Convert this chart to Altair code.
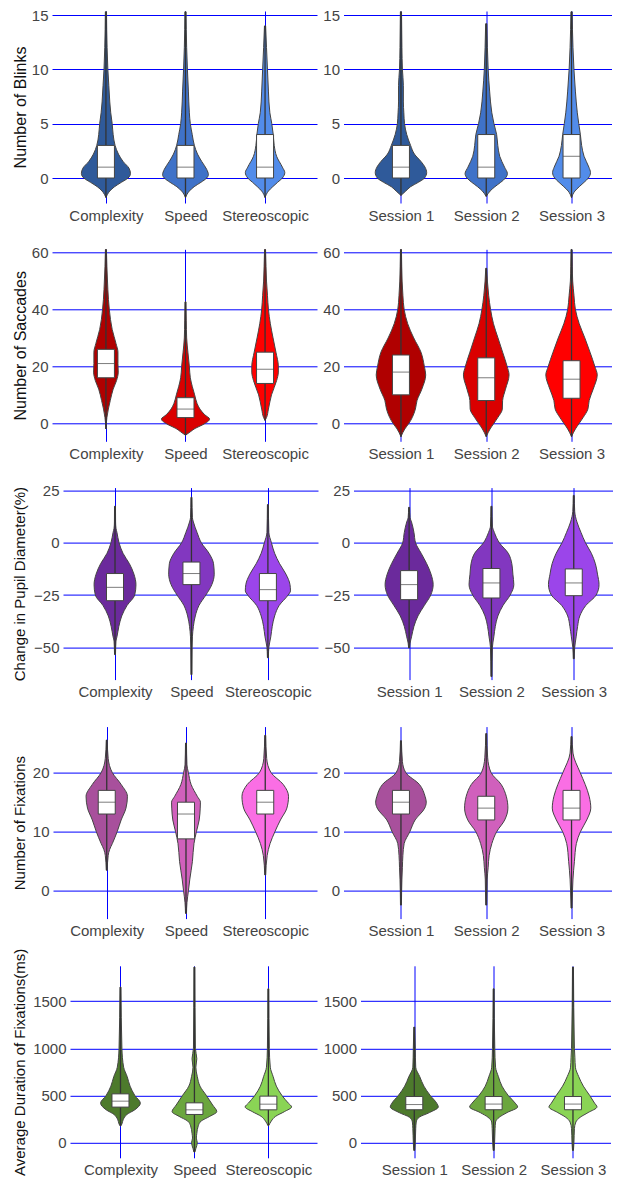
import altair as alt
import pandas as pd

FONT = "Liberation Sans"

cond_cats = ["Complexity", "Speed", "Stereoscopic"]
sess_cats = ["Session 1", "Session 2", "Session 3"]

blinks_title = "Number of Blinks"
blinks_ticks = [0, 5, 10, 15]
blinks_colors = ["#2f5a9a", "#3f72c8", "#528cea"]
blinks_violin = {
    "Complexity": ([-1.8, -1.2, -0.8, -0.4, 0, 0.4, 0.9, 1.5, 2.2, 3, 4, 5, 6, 7, 8.5, 10, 12, 15.3],
                   [0, 4, 9, 16, 23, 25.5, 24, 18, 13, 9.5, 7.5, 6.5, 5, 4, 3, 2, 1.2, 0.6]),
    "Speed": ([-1.8, -1.2, -0.8, -0.4, 0, 0.3, 0.8, 1.5, 2.2, 3, 4, 5, 6, 8, 10, 12, 15.3],
              [0, 4, 9, 16, 22, 23.8, 22, 17, 12.5, 9.2, 7, 5, 4, 3, 2, 1.2, 0.6]),
    "Stereoscopic": ([-1.8, -1.2, -0.8, -0.4, 0, 0.5, 1, 2, 3, 4, 5, 6, 8, 10, 12, 14],
                     [0, 3.5, 8, 13, 18, 20.5, 18, 12, 9.5, 8.5, 7, 5, 3.5, 2.5, 1.5, 0.6]),
    "Session 1": ([-1.6, -1.2, -0.8, -0.4, 0, 0.5, 1, 1.5, 2.2, 3, 4, 5, 6, 7, 8.5, 10, 12, 15.3],
                  [0, 5, 10, 18, 24.5, 26.7, 25, 21, 14, 10, 6, 3.7, 3, 2.5, 2.5, 1.5, 1, 0.6]),
    "Session 2": ([-1.7, -1.2, -0.8, -0.4, 0, 0.4, 1, 2, 3, 4, 5, 6, 8, 10, 12, 14.2],
                  [0, 4, 9, 15, 20, 22, 19, 14, 12, 10.8, 8, 5.8, 3.5, 2, 1.2, 0.6]),
    "Session 3": ([-1.8, -1.2, -0.8, -0.4, 0, 0.5, 1, 2, 3, 4, 5, 6, 8, 10, 12, 15.3],
                  [0, 3.5, 8, 13, 17.5, 19.7, 18, 13, 10.5, 9.2, 7.5, 6, 4, 2.5, 1.5, 0.6]),
}
blinks_box = {"Complexity": (0, 1, 3), "Speed": (0, 1, 3), "Stereoscopic": (0, 1, 4),
              "Session 1": (0, 1, 3), "Session 2": (0, 1, 4), "Session 3": (0, 2, 4)}

sacc_title = "Number of Saccades"
sacc_ticks = [0, 20, 40, 60]
sacc_colors = ["#b00000", "#da0000", "#ff0000"]
sacc_violin = {
    "Complexity": ([-2, 2, 5, 8, 12, 15, 18, 21, 25, 28, 33, 40, 47, 55, 61.1],
                   [0, 1, 2.5, 4.5, 7.5, 11, 12.8, 12.5, 12.5, 10.5, 6.5, 3.5, 2, 1, 0.5]),
    "Speed": ([-4.2, -3, -1.8, -0.5, 1.5, 3, 5, 7, 10, 13, 16, 20, 25, 30, 36, 42.7],
              [0, 5, 10, 18, 25, 20, 15, 12, 9.5, 7, 5, 4, 2.5, 1.2, 0.8, 0.5]),
    "Stereoscopic": ([1, 2, 5, 10, 15, 18, 20, 25, 30, 35, 40, 45, 50, 55, 61.1],
                     [0, 1.5, 3.5, 6.7, 12, 13.8, 13.8, 11.3, 8.3, 5.5, 3.5, 2.5, 1.5, 1, 0.5]),
    "Session 1": ([-4.7, -2, 0, 2, 5, 8, 12, 17, 20, 25, 30, 35, 40, 45, 50, 55, 61.1],
                  [0, 4, 8.3, 11.7, 15, 16.7, 21.7, 25.7, 24.3, 20.8, 13.3, 7, 3.3, 2, 1.2, 0.8, 0.5]),
    "Session 2": ([-4.7, -2, 0, 2, 5, 8, 12, 17, 20, 25, 30, 35, 40, 45, 50, 54.5],
                  [0, 4, 8, 12, 16.7, 17, 20, 23.7, 21.7, 17, 12.2, 7.5, 4.5, 2.5, 1.2, 0.5]),
    "Session 3": ([-4.7, -2, 0, 2, 5, 8, 12, 17, 20, 25, 30, 35, 40, 45, 50, 55, 61.1],
                  [0, 4, 8, 12, 17, 18.3, 22.5, 26.7, 24.2, 19.2, 13.8, 8, 4, 2.5, 1.2, 0.8, 0.5]),
}
sacc_box = {"Complexity": (16, 21, 26), "Speed": (2, 5, 9), "Stereoscopic": (14, 19, 25),
            "Session 1": (10, 18, 24), "Session 2": (8, 16, 23), "Session 3": (8.8, 15.5, 22)}

pupil_title = "Change in Pupil Diameter(%)"
pupil_ticks = [-50, -25, 0, 25]
pupil_colors = ["#6b2a9c", "#8237c0", "#9b45ea"]
pupil_violin = {
    "Complexity": ([-53.5, -47, -45, -40, -35, -30, -25, -20, -15, -10, -5, 0, 5, 7, 10, 17.5],
                   [0.5, 1, 2, 4, 7, 12.5, 20.5, 21.8, 19.7, 15, 8.3, 4.2, 2, 1, 0.6, 0.5]),
    "Speed": ([-63.1, -50, -45, -40, -35, -30, -25, -20, -15, -10, -5, 0, 5, 10, 12, 21.8],
              [0.5, 0.7, 1, 2, 4, 7.8, 15, 21.2, 23.7, 23, 18.3, 10.3, 5.8, 2, 1, 0.5]),
    "Stereoscopic": ([-55, -52, -50, -45, -40, -35, -30, -25, -23, -20, -15, -10, -5, 0, 5, 18.3],
                     [0.5, 0.7, 1, 3, 4.5, 7, 11.7, 21, 23.5, 23, 18.8, 12.2, 7, 3.7, 1, 0.5]),
    "Session 1": ([-50.3, -48, -45, -40, -35, -30, -25, -20, -15, -10, -5, 0, 5, 10, 12, 17],
                  [0.5, 1, 2.5, 5, 9.2, 15.8, 22.5, 25, 22.8, 18.3, 12.5, 6.7, 5, 2.5, 1, 0.5]),
    "Session 2": ([-64, -50, -45, -40, -35, -30, -25, -20, -15, -10, -5, 0, 5, 8, 17.5],
                  [0.5, 1, 2.5, 4, 6.7, 12, 19.5, 23.3, 22.3, 21.2, 17.5, 8.3, 3, 1, 0.5]),
    "Session 3": ([-55.5, -50, -45, -40, -35, -30, -25, -20, -15, -10, -5, 0, 5, 10, 15, 22.7],
                  [0.5, 1, 2.5, 4, 6.3, 12.5, 23.3, 26.3, 24.7, 22.5, 18.3, 12.2, 7.5, 3.3, 1, 0.5]),
}
pupil_box = {"Complexity": (-27.7, -21.3, -14.7), "Speed": (-20, -14.7, -9.2),
             "Stereoscopic": (-27.7, -22.4, -14.7), "Session 1": (-27.2, -20, -13.3),
             "Session 2": (-26.4, -19.2, -12.3), "Session 3": (-25.3, -19.2, -12.5)}

fix_title = "Number of Fixations"
fix_ticks = [0, 10, 20]
fix_colors = ["#a8509c", "#d060bc", "#fa6ee4"]
fix_violin = {
    "Complexity": ([3.5, 6, 7, 8, 10, 12, 14, 16, 18, 20, 22.4, 25.5],
                   [0.5, 1.5, 3, 5.8, 10.8, 15, 20, 21.5, 15, 5.8, 1.5, 0.5]),
    "Speed": ([-3.8, -2, 0, 2, 5, 8, 10, 12, 14, 15, 16, 18, 20, 21.3, 25],
              [0.5, 1, 2.5, 4, 6.7, 8.3, 10.8, 13.7, 14.8, 15, 11.7, 5.3, 2.5, 1, 0.5]),
    "Stereoscopic": ([2.7, 6, 8, 10, 12, 14, 16, 18, 20, 22.4, 26.3],
                     [0.5, 2, 5, 10, 15.8, 22.5, 24.2, 18.7, 6, 1.5, 0.5]),
    "Session 1": ([-2.4, 2, 4, 6, 8, 10, 12, 14, 15, 16, 18, 20, 21.9, 25.4],
                  [0.5, 1, 1.5, 2, 3.3, 9.2, 14.7, 24.7, 26.3, 25, 19.2, 5, 1.5, 0.5]),
    "Session 2": ([-2.4, 0, 2, 4, 6, 8, 10, 12, 14, 16, 18, 20, 22.5, 26.6],
                  [0.5, 0.8, 1, 2, 3, 5.8, 10.8, 19.2, 22.5, 20.8, 15.5, 5, 1.5, 0.5]),
    "Session 3": ([-2.9, 0, 2, 5, 8, 10, 12, 14, 16, 18, 20, 23.3, 26.1],
                  [0.5, 1, 1.5, 3, 5, 9.2, 15.8, 20, 18.3, 14.2, 9, 1.5, 0.5]),
}
fix_box = {"Complexity": (13, 15, 17), "Speed": (8.8, 13, 15), "Stereoscopic": (13, 15, 17),
           "Session 1": (13, 15, 17), "Session 2": (12, 14, 16), "Session 3": (12, 14, 17)}

dur_title = "Average Duration of Fixations(ms)"
dur_ticks = [0, 500, 1000, 1500]
dur_colors = ["#4d7a2c", "#6ba63e", "#8ad455"]
dur_violin = {
    "Complexity": ([180, 200, 250, 300, 350, 420, 500, 600, 700, 800, 1000, 1648],
                   [0.5, 1.5, 3, 6.7, 15, 20.7, 15, 10, 7, 3.3, 1.5, 0.5]),
    "Speed": ([-98, -60, 0, 50, 100, 180, 230, 280, 330, 400, 500, 600, 700, 800, 890, 1000, 1860],
              [0.5, 1.5, 3, 2, 2.5, 4, 7, 16, 23.3, 19, 12.5, 5.8, 3, 1.5, 2.5, 1, 0.5]),
    "Stereoscopic": ([183, 230, 280, 330, 380, 420, 500, 600, 700, 800, 1000, 1630],
                     [0.5, 3, 7.5, 16.7, 24.2, 20.8, 14.2, 8.3, 5, 2, 1, 0.5]),
    "Session 1": ([-81, 0, 150, 220, 270, 320, 380, 420, 500, 600, 700, 800, 1000, 1225],
                  [0.5, 1, 1.5, 2, 5, 15.8, 25, 23.3, 16.7, 10, 5.7, 1.5, 1, 0.5]),
    "Session 2": ([-81, 0, 150, 220, 270, 320, 380, 420, 500, 600, 700, 800, 1000, 1630],
                  [0.5, 1, 1.5, 2, 5.8, 14, 25, 22.5, 15.3, 8.7, 5, 2, 1.2, 0.5]),
    "Session 3": ([-81, 0, 150, 220, 270, 320, 380, 420, 500, 600, 700, 800, 900, 1000, 1860],
                  [0.5, 1, 1.5, 3, 7.5, 15.8, 25, 22.5, 17.5, 10.8, 6, 2.5, 2, 1.5, 0.5]),
}
dur_box = {"Complexity": (378, 441, 518), "Speed": (300, 349, 423), "Stereoscopic": (349, 409, 494),
           "Session 1": (350, 405, 490), "Session 2": (350, 410, 490), "Session 3": (350, 410, 490)}

H = 192
BOXW = 17
XDOM_L = [0.385, 3.59]
XDOM_R = [0.385, 3.41]
GRID = "#0000ff"

ROWS = [
    dict(title=blinks_title, ticks=blinks_ticks, ydom=[-2.30, 15.37], colors=blinks_colors,
         violin=blinks_violin, box=blinks_box, tsize=16, tpad=3.3, wl=265, wr=268),
    dict(title=sacc_title, ticks=sacc_ticks, ydom=[-6.33, 61.16], colors=sacc_colors,
         violin=sacc_violin, box=sacc_box, tsize=16, tpad=3.3, wl=265, wr=268),
    dict(title=pupil_title, ticks=pupil_ticks, ydom=[-65.47, 26.44], colors=pupil_colors,
         violin=pupil_violin, box=pupil_box, tsize=15, tpad=6, wl=255, wr=259),
    dict(title=fix_title, ticks=fix_ticks, ydom=[-4.68, 27.78], colors=fix_colors,
         violin=fix_violin, box=fix_box, tsize=15, tpad=5.3, wl=264, wr=268),
    dict(title=dur_title, ticks=dur_ticks, ydom=[-158.7, 1873.7], colors=dur_colors,
         violin=dur_violin, box=dur_box, tsize=15, tpad=5.6, wl=247, wr=250),
]


def panel(cats, violin, box, colors, ydom, ticks, width, xdom, title=None,
          tsize=16, tpad=3.3):
    pxu = width / (xdom[1] - xdom[0])
    vr, rr, br = [], [], []
    for i, c in enumerate(cats):
        vals, ws = violin[c]
        for v, w in zip(vals, ws):
            vr.append(dict(cat=c, col=colors[i], val=v,
                           lo=i + 1 - w / pxu, hi=i + 1 + w / pxu))
        rr.append(dict(cat=c, pos=i + 1, vmin=min(vals), vmax=max(vals)))
        q1, md, q3 = box[c]
        br.append(dict(cat=c, pos=i + 1, q1=q1, med=md, q3=q3))

    xs = alt.Scale(domain=xdom, nice=False, zero=False)
    ys = alt.Scale(domain=ydom, nice=False, zero=False)

    label_expr = (f"datum.value == 1 ? '{cats[0]}' : "
                  f"datum.value == 2 ? '{cats[1]}' : '{cats[2]}'")
    xaxis = alt.Axis(values=[1, 2, 3], labelExpr=label_expr, grid=True,
                     gridColor=GRID, domain=False, ticks=False,
                     labelFontSize=15, labelColor="#444",
                     labelPadding=5, labelFont=FONT, title=None)
    ykw = dict(values=ticks, format="d", grid=True, gridColor=GRID,
               domain=False, ticks=False, labelFontSize=15,
               labelColor="#444", labelPadding=4, labelFont=FONT)
    if title:
        ykw.update(title=title, titleFontSize=tsize, titleFont=FONT,
                   titleColor="#111", titleFontWeight="normal", titlePadding=tpad)
    else:
        ykw.update(title=None)
    yaxis = alt.Axis(**ykw)

    area = alt.Chart(pd.DataFrame(vr)).mark_area(
        orient="horizontal", interpolate="monotone", stroke="#444",
        strokeWidth=1, fillOpacity=1
    ).encode(
        y=alt.Y("val:Q", scale=ys, axis=yaxis),
        x=alt.X("lo:Q", scale=xs, stack=None, axis=xaxis),
        x2="hi:Q",
        fill=alt.Fill("col:N", scale=None),
        detail="cat:N",
    )
    rule = alt.Chart(pd.DataFrame(rr)).mark_rule(color="#333", strokeWidth=1.3).encode(
        x=alt.X("pos:Q"),
        y=alt.Y("vmin:Q"),
        y2="vmax:Q",
    )
    bx = alt.Chart(pd.DataFrame(br)).mark_bar(
        size=BOXW, fill="white", stroke="#444", strokeWidth=1
    ).encode(
        x=alt.X("pos:Q"),
        y=alt.Y("q1:Q"),
        y2="q3:Q",
    )
    med = alt.Chart(pd.DataFrame(br)).mark_tick(
        orient="horizontal", size=BOXW, thickness=1, color="#444"
    ).encode(
        x=alt.X("pos:Q"),
        y=alt.Y("med:Q"),
    )
    return alt.layer(area, rule, bx, med).properties(width=width, height=H)


def spacer():
    # invisible, empty 4 px wide cell that keeps the left edges of the rows flush
    return alt.Chart(pd.DataFrame({"a": [0]})).mark_text(text="").encode(
        x=alt.value(0), y=alt.value(H / 2)
    ).properties(width=4, height=H)


rows = []
for r in ROWS:
    left = panel(cond_cats, r["violin"], r["box"], r["colors"], r["ydom"], r["ticks"],
                 r["wl"], XDOM_L, title=r["title"], tsize=r["tsize"], tpad=r["tpad"])
    right = panel(sess_cats, r["violin"], r["box"], r["colors"], r["ydom"], r["ticks"],
                  r["wr"], XDOM_R)
    rows.append(alt.hconcat(alt.hconcat(spacer(), left, spacing=0), right, spacing=5.5))

block_a = alt.vconcat(rows[0], rows[1], rows[2], spacing=22.3)
block_b = alt.vconcat(block_a, rows[3], spacing=26.6)
chart = alt.vconcat(block_b, rows[4], spacing=8.8).properties(
    padding={"left": 0, "top": 0, "right": 0, "bottom": 0}
).configure_view(strokeWidth=0)

chart.save("out.html", embed_options={"renderer": "svg", "actions": False})
